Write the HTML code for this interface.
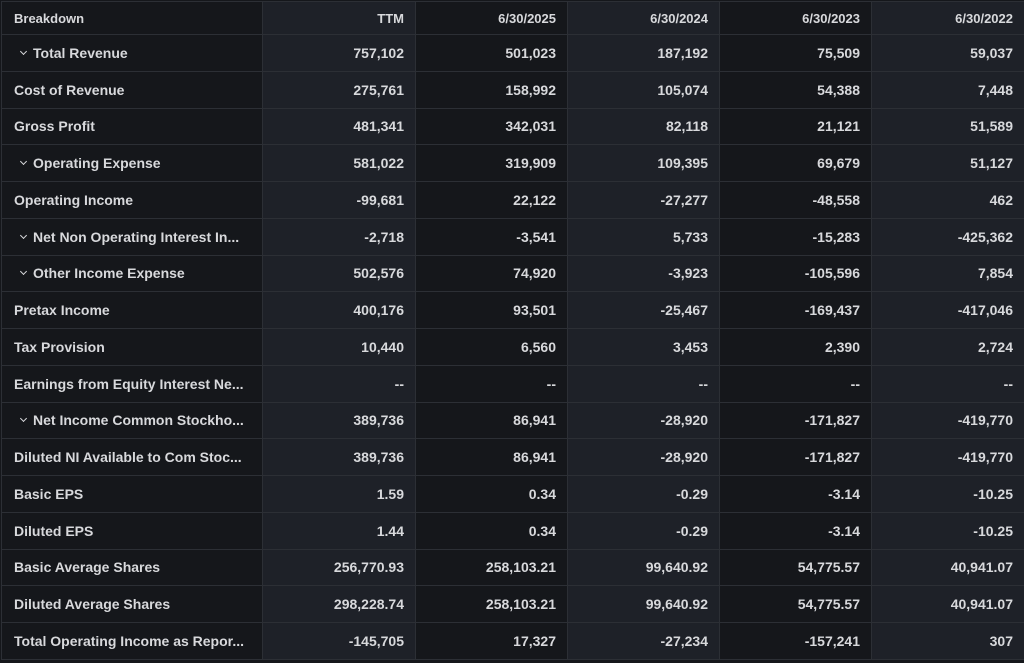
<!DOCTYPE html>
<html><head><meta charset="utf-8"><style>
html,body{margin:0;padding:0;background:#15171b;width:1024px;height:663px;overflow:hidden}
.g{position:absolute;left:1px;top:1px;width:1023px;display:grid;grid-template-columns:261px 153px 152px 152px 152px 153px;grid-template-rows:33px repeat(17,36.76px);border-top:1px solid #2c2f35;border-left:1px solid #2c2f35;font-family:"Liberation Sans",sans-serif;font-weight:bold;color:#d8d9dc;font-size:14px}
.g div{border-right:1px solid #2c2f35;border-bottom:1px solid #2c2f35;display:flex;align-items:center;justify-content:flex-end;padding-right:11px;white-space:nowrap;overflow:hidden}
.g div:nth-child(6n+1){justify-content:flex-start;padding-left:12px;padding-right:0;background:#15171b}
.g div:nth-child(6n+2),.g div:nth-child(6n+4),.g div:nth-child(6n+6){background:#1e2128}
.g div:nth-child(6n+3),.g div:nth-child(6n+5){background:#15171b}
.g .h{font-size:13px}
.c{display:inline-block;width:4px;height:4px;border-right:1.5px solid #d8d9dc;border-bottom:1.5px solid #d8d9dc;transform:rotate(45deg);margin:0 7px 3px 7px}
</style></head><body>
<div class="g">
<div class="h">Breakdown</div><div class="h">TTM</div><div class="h">6/30/2025</div><div class="h">6/30/2024</div><div class="h">6/30/2023</div><div class="h">6/30/2022</div>
<div><span class="c"></span>Total Revenue</div><div>757,102</div><div>501,023</div><div>187,192</div><div>75,509</div><div>59,037</div>
<div>Cost of Revenue</div><div>275,761</div><div>158,992</div><div>105,074</div><div>54,388</div><div>7,448</div>
<div>Gross Profit</div><div>481,341</div><div>342,031</div><div>82,118</div><div>21,121</div><div>51,589</div>
<div><span class="c"></span>Operating Expense</div><div>581,022</div><div>319,909</div><div>109,395</div><div>69,679</div><div>51,127</div>
<div>Operating Income</div><div>-99,681</div><div>22,122</div><div>-27,277</div><div>-48,558</div><div>462</div>
<div><span class="c"></span>Net Non Operating Interest In...</div><div>-2,718</div><div>-3,541</div><div>5,733</div><div>-15,283</div><div>-425,362</div>
<div><span class="c"></span>Other Income Expense</div><div>502,576</div><div>74,920</div><div>-3,923</div><div>-105,596</div><div>7,854</div>
<div>Pretax Income</div><div>400,176</div><div>93,501</div><div>-25,467</div><div>-169,437</div><div>-417,046</div>
<div>Tax Provision</div><div>10,440</div><div>6,560</div><div>3,453</div><div>2,390</div><div>2,724</div>
<div>Earnings from Equity Interest Ne...</div><div>--</div><div>--</div><div>--</div><div>--</div><div>--</div>
<div><span class="c"></span>Net Income Common Stockho...</div><div>389,736</div><div>86,941</div><div>-28,920</div><div>-171,827</div><div>-419,770</div>
<div>Diluted NI Available to Com Stoc...</div><div>389,736</div><div>86,941</div><div>-28,920</div><div>-171,827</div><div>-419,770</div>
<div>Basic EPS</div><div>1.59</div><div>0.34</div><div>-0.29</div><div>-3.14</div><div>-10.25</div>
<div>Diluted EPS</div><div>1.44</div><div>0.34</div><div>-0.29</div><div>-3.14</div><div>-10.25</div>
<div>Basic Average Shares</div><div>256,770.93</div><div>258,103.21</div><div>99,640.92</div><div>54,775.57</div><div>40,941.07</div>
<div>Diluted Average Shares</div><div>298,228.74</div><div>258,103.21</div><div>99,640.92</div><div>54,775.57</div><div>40,941.07</div>
<div>Total Operating Income as Repor...</div><div>-145,705</div><div>17,327</div><div>-27,234</div><div>-157,241</div><div>307</div>
</div>
</body></html>
